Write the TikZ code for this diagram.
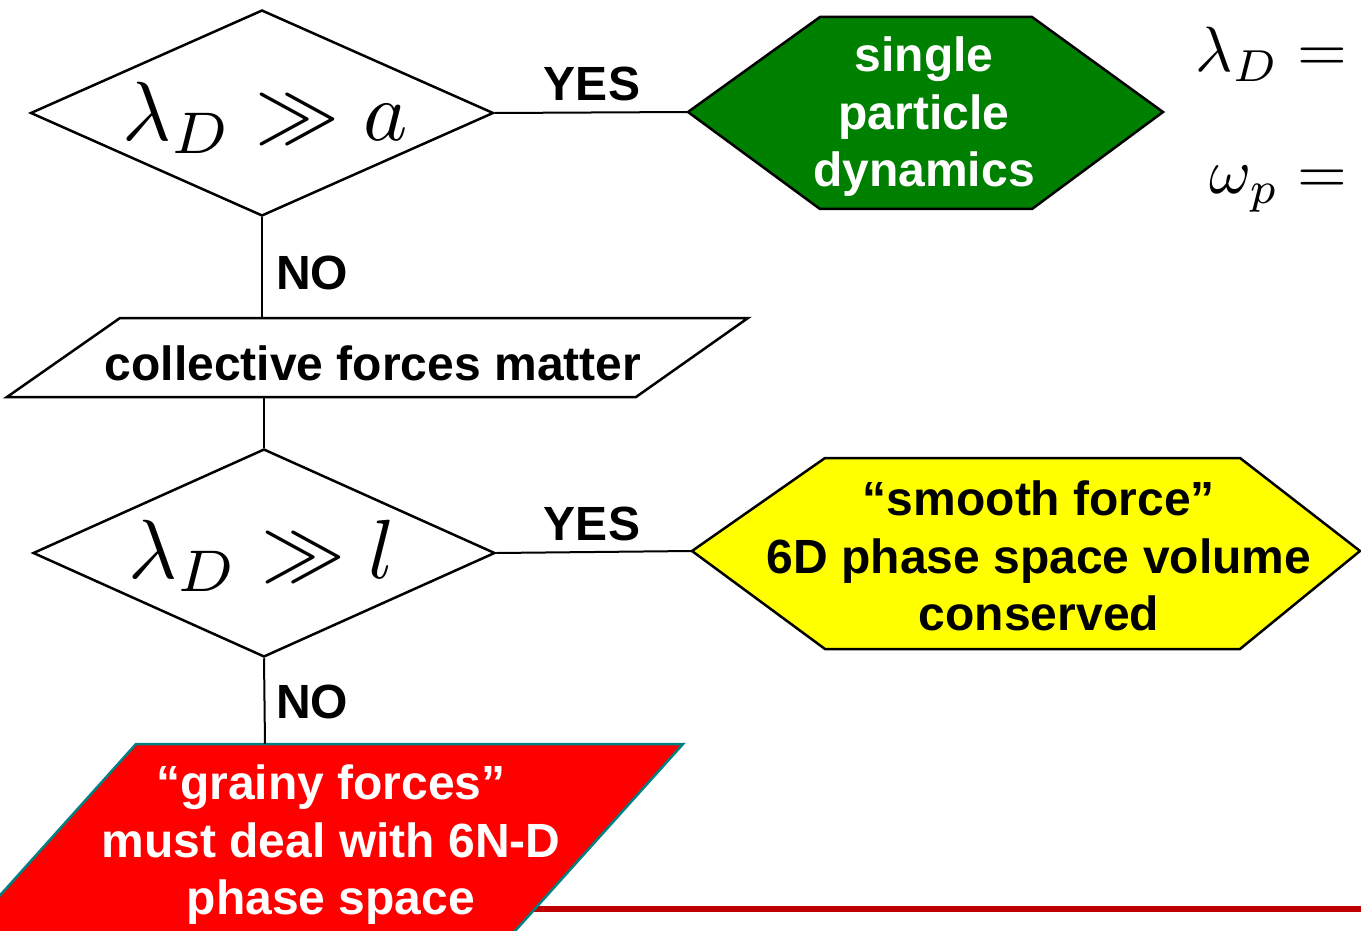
\documentclass[tikz,border=0pt]{standalone}
\usepackage{graphicx}
\usepackage{fontspec}
\setsansfont{Liberation Sans}
\usetikzlibrary{shapes.geometric}
\definecolor{dgreen}{RGB}{0,128,0}
\definecolor{ylw}{RGB}{255,255,0}
\definecolor{tealb}{RGB}{0,128,128}
\definecolor{dred}{RGB}{192,0,0}
\definecolor{bred}{RGB}{255,0,0}
\newcommand{\bigmath}[1]{\scalebox{8.4}{$#1$}}
\newcommand{\sidem}[1]{\scalebox{6.4}{$#1$}}
\tikzset{
  lbl/.style={font=\sffamily\bfseries\fontsize{48}{57.5}\selectfont, align=center, inner sep=0pt},
  mathlbl/.style={inner sep=0pt},
  shapeline/.style={line width=2.5pt, line join=miter},
  decision/.style={diamond, draw, shapeline, inner sep=0pt},
  conn/.style={line width=2pt},
}
\begin{document}
\begin{tikzpicture}[x=1pt,y=-1pt]
\useasboundingbox (0,0) rectangle (1361,931);
\begin{scope}
\clip (0,0) rectangle (1361,931);

% bottom red rule
\coordinate (rl) at (500,908.5);
\coordinate (rr) at (1361,908.5);
\draw[dred, line width=6pt] (rl) -- (rr);

% decision 1
\node[decision, minimum width=463pt, minimum height=206pt] (d1) at (262,113) {};
\node[mathlbl] (m1) at (265,118) {\bigmath{\lambda_D \gg a}};

% green hexagon
\draw[shapeline, fill=dgreen] (688,112) coordinate (h1w) -- (820,17) -- (1032,17) -- (1163,112) -- (1032,209) -- (820,209) -- cycle;
\node[lbl, text=white] (t1) at (924,117) {single\\particle\\dynamics};

\draw[conn] (d1.east) -- (h1w);
\node[lbl] (yes1) at (592,84) {YES};

% right-hand equations (cut off)
\node[mathlbl, anchor=east] (eq1) at (1347,54) {\sidem{\lambda_D =}};
\node[mathlbl, anchor=east] (eq2) at (1347,189) {\sidem{\omega_p =}};

% collective forces
\draw[shapeline, fill=white] (120,318) coordinate (p1tl) -- (748,318) -- (636,397) -- (7,397) -- cycle;
\coordinate (p1t) at (262,318);
\coordinate (p1b) at (264,398);
\node[lbl] (t2) at (373,363) {collective forces matter};
\draw[conn] (d1.south) -- (p1t);
\node[lbl] (no1) at (312,273) {NO};

% decision 2
\node[decision, minimum width=462pt, minimum height=208pt] (d2) at (264,553) {};
\node[mathlbl] (m2) at (262,556) {\bigmath{\lambda_D \gg l}};
\draw[conn] (p1b) -- (d2.north);

% yellow hexagon
\draw[shapeline, fill=ylw] (692,551) coordinate (h2w) -- (825,458) -- (1240,458) -- (1360,551) -- (1240,649) -- (825,649) -- cycle;
\node[lbl] (t3) at (1039,556) {``smooth force''\\6D phase space volume\\conserved};
\draw[conn] (d2.east) -- (h2w);
\node[lbl] (yes2) at (592,524) {YES};

% red parallelogram
\coordinate (p2t) at (265,744);
\draw[line width=2.5pt, draw=tealb, fill=bred, line join=miter] (136,744) -- (683,744) -- (453,1000) -- (-94,1000) -- cycle;
\node[lbl, text=white] (t4) at (331,845) {``grainy forces''\\must deal with 6N-D\\phase space};
\draw[conn] (d2.south) -- (p2t);
\node[lbl] (no2) at (312,702) {NO};
\end{scope}
\end{tikzpicture}
\end{document}
